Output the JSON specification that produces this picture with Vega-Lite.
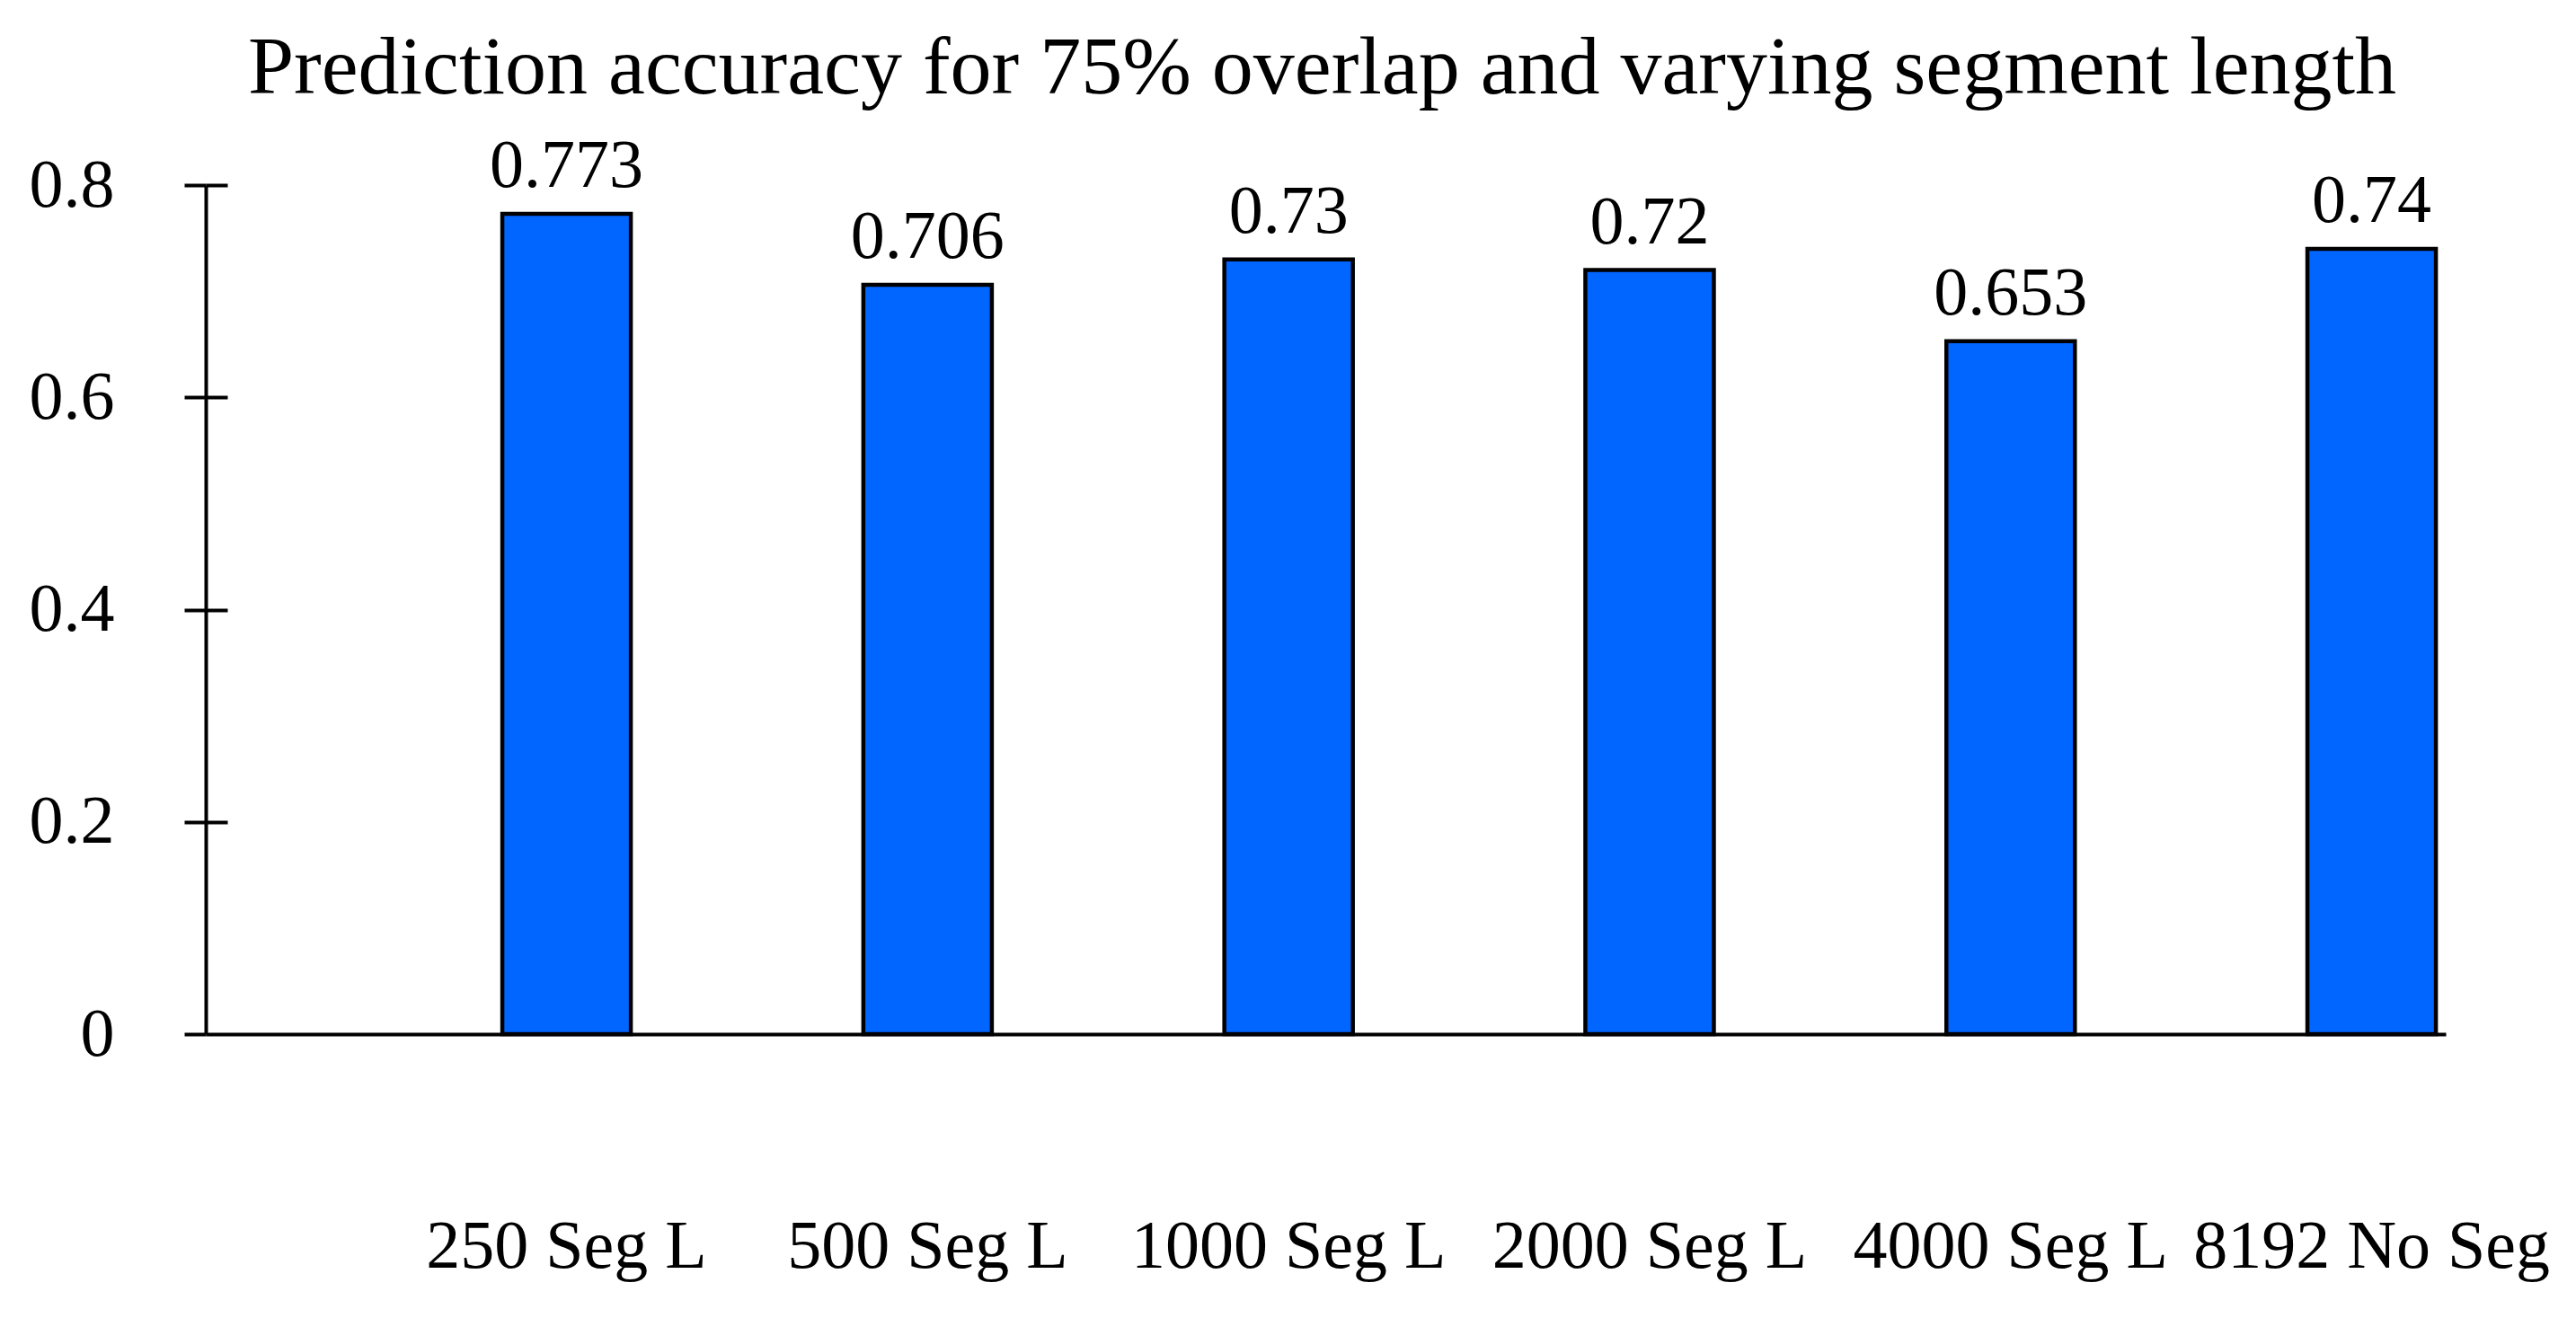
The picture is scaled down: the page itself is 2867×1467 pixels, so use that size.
{
  "$schema": "https://vega.github.io/schema/vega-lite/v6.json",
  "width": 2493,
  "height": 945,
  "autosize": {"type": "none"},
  "padding": {"left": 229, "top": 206, "right": 145, "bottom": 316},
  "background": "white",
  "config": {"view": {"stroke": null}},
  "title": {
    "text": "Prediction accuracy for 75% overlap and varying segment length",
    "font": "Liberation Serif",
    "fontSize": 92,
    "fontWeight": "normal",
    "color": "black",
    "anchor": "middle",
    "baseline": "alphabetic",
    "frame": "group",
    "offset": -49,
    "dx": -4
  },
  "data": {
    "values": [
      {"segment": "250 Seg L", "accuracy": 0.773},
      {"segment": "500 Seg L", "accuracy": 0.706},
      {"segment": "1000 Seg L", "accuracy": 0.73},
      {"segment": "2000 Seg L", "accuracy": 0.72},
      {"segment": "4000 Seg L", "accuracy": 0.653},
      {"segment": "8192 No Seg", "accuracy": 0.74}
    ]
  },
  "encoding": {
    "x": {
      "field": "segment",
      "type": "nominal",
      "sort": null,
      "scale": {"paddingInner": 0.644, "paddingOuter": 0.4243, "align": 0.968},
      "axis": {
        "title": null,
        "ticks": false,
        "domain": true,
        "domainColor": "black",
        "domainWidth": 4,
        "labelAngle": 0,
        "labelFont": "Liberation Serif",
        "labelFontSize": 76,
        "labelColor": "black",
        "labelBaseline": "alphabetic",
        "labelPadding": 259,
        "labelLimit": 0,
        "labelOverlap": false
      }
    }
  },
  "layer": [
    {
      "mark": {"type": "bar", "fill": "#0066FF", "stroke": "black", "strokeWidth": 4.5},
      "encoding": {
        "y": {
          "field": "accuracy",
          "type": "quantitative",
          "scale": {"domain": [0, 0.8], "nice": false},
          "axis": {
            "title": null,
            "grid": false,
            "values": [0, 0.2, 0.4, 0.6, 0.8],
            "format": "~g",
            "domainColor": "black",
            "domainWidth": 4,
            "tickColor": "black",
            "tickWidth": 4,
            "tickSize": 24,
            "labelFont": "Liberation Serif",
            "labelFontSize": 76,
            "labelColor": "black",
            "labelPadding": 78,
            "labelFlush": false
          }
        }
      }
    },
    {
      "mark": {"type": "text", "dy": -30, "baseline": "alphabetic", "font": "Liberation Serif", "fontSize": 76, "color": "black"},
      "encoding": {
        "y": {
          "field": "accuracy",
          "type": "quantitative",
          "scale": {"domain": [0, 0.8], "nice": false},
          "axis": {
            "orient": "left",
            "title": null,
            "grid": false,
            "labels": false,
            "domain": false,
            "values": [0.2, 0.4, 0.6, 0.8],
            "tickColor": "black",
            "tickWidth": 4,
            "tickSize": -24
          }
        },
        "text": {"field": "accuracy", "type": "quantitative"}
      }
    }
  ],
  "resolve": {"axis": {"y": "independent"}}
}
